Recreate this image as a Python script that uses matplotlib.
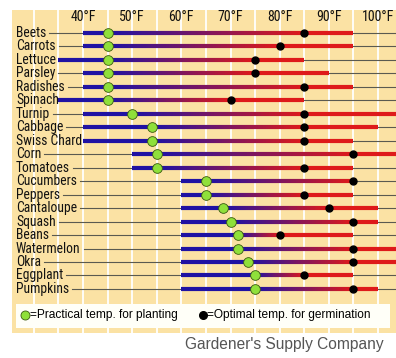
import matplotlib.pyplot as plt
import numpy as np
from matplotlib.collections import LineCollection
from matplotlib.patches import Rectangle
from matplotlib import font_manager
from matplotlib.font_manager import FontProperties

plt.rcParams['font.family'] = ['Liberation Sans', 'DejaVu Sans']

# look for a narrow sans face (labels in the original are condensed)
narrow_file = None
for f in font_manager.fontManager.ttflist:
    n = f.name + ' ' + f.fname
    if f.style != 'normal' or f.weight not in (400, 'normal', 'regular'):
        continue
    if 'Narrow' in n or 'Condensed' in n or f.stretch in ('condensed', 'semi-condensed'):
        if 'Mono' in n or 'Serif' in n:
            continue
        narrow_file = f.fname
        if 'Liberation' in n or 'Arial' in n:
            break

# crops, top to bottom
crops = ['Beets', 'Carrots', 'Lettuce', 'Parsley', 'Radishes', 'Spinach', 'Turnip',
         'Cabbage', 'Swiss Chard', 'Corn', 'Tomatoes', 'Cucumbers', 'Peppers',
         'Cantaloupe', 'Squash', 'Beans', 'Watermelon', 'Okra', 'Eggplant', 'Pumpkins']
# soil temperature range (F)
low = [40, 40, 35, 40, 40, 35, 40, 40, 40, 50, 50, 60, 60, 60, 60, 60, 60, 60, 60, 60]
high = [95, 95, 85, 90, 95, 85, 105, 100, 95, 105, 95, 95, 95, 100, 100, 95, 105, 105, 95, 100]
# practical temp for planting (green) / optimal temp for germination (black)
practical = [45, 45, 45, 45, 45, 45, 50, 54, 54, 55, 55, 65, 65, 68.5, 70, 71.5, 71.5, 73.5, 75, 75]
optimal = [85, 80, 75, 75, 85, 70, 85, 85, 85, 95, 85, 95, 85, 90, 95, 80, 95, 95, 85, 95]
tick_temps = [40, 50, 60, 70, 80, 90, 100]

W, H = 396, 358
fig = plt.figure(figsize=(W / 100, H / 100), dpi=100)
ax = fig.add_axes([0, 0, 1, 1])
ax.axis('off')

# pixel mapping: 40F at x=83, 4.917 px per degree; rows start y=33, 13.47 px apart
px_per_deg = 4.917
x0 = 40 - 83 / px_per_deg
ax.set_xlim(x0, x0 + W / px_per_deg)
row_h = 13.47
ax.set_ylim((H - 33) / row_h, -33 / row_h)


def px2x(px):
    return x0 + px / px_per_deg


def py2y(py):
    return (py - 33) / row_h


fig.canvas.draw()
renderer = fig.canvas.get_renderer()
inv = ax.transData.inverted()


def label_font(size):
    if narrow_file:
        return FontProperties(fname=narrow_file, size=size)
    return FontProperties(family='Liberation Sans', size=size * 0.88)


lab_size = 9.8
tick_size = 10

panel = '#fbe2a4'
blue = np.array([0.12, 0.07, 0.64])
red = np.array([0.87, 0.1, 0.1])

# background panel + white grid lines
ax.add_patch(Rectangle((px2x(12), py2y(10)), px2x(W) - px2x(12), py2y(333) - py2y(10),
                       facecolor=panel, edgecolor='none', zorder=0))
for t in range(30, 105, 5):
    ax.plot([t, t], [py2y(10), py2y(333)], color='white', lw=1.3, zorder=1)

for t in tick_temps:
    ax.text(t, py2y(17), f'{t}°F', ha='center', va='center', color='#111111',
            fontproperties=label_font(tick_size), zorder=5)

for i, crop in enumerate(crops):
    txt = ax.text(px2x(16), i, crop, ha='left', va='center', color='#111111',
                  fontproperties=label_font(lab_size), zorder=5)
    bb = txt.get_window_extent(renderer)
    x_end = inv.transform((bb.x1 + 3, 0))[0]
    ax.plot([x_end, px2x(W)], [i, i], color='#5a5a50', lw=0.8, zorder=2)

    # blue part, gradient part, red part
    ax.plot([low[i], practical[i]], [i, i], color=blue, lw=3, solid_capstyle='butt', zorder=3)
    ax.plot([optimal[i], high[i]], [i, i], color=red, lw=3, solid_capstyle='butt', zorder=3)
    xs = np.linspace(practical[i], optimal[i], 60)
    segs = [[(xs[k], i), (xs[k + 1], i)] for k in range(len(xs) - 1)]
    f = np.linspace(0, 1, len(segs))[:, None]
    cols = blue * (1 - f) + red * f
    ax.add_collection(LineCollection(segs, colors=cols, linewidths=3, capstyle='butt', zorder=3))

ax.plot(optimal, range(len(crops)), 'o', color='black', ms=5, zorder=4)
ax.plot(practical, range(len(crops)), 'o', color='#8fe03a', mec='#3a5a10', mew=0.6, ms=7, zorder=4)

# legend box
ax.add_patch(Rectangle((px2x(16), py2y(304)), px2x(390) - px2x(16), py2y(328) - py2y(304),
                       facecolor='#fffff8', edgecolor='none', zorder=5))
ax.plot([px2x(25)], [py2y(315)], 'o', color='#8fe03a', mec='#3a5a10', mew=0.6, ms=6.5, zorder=6)
ax.text(px2x(30), py2y(315), '=Practical temp. for planting', ha='left', va='center',
        fontsize=8.6, zorder=6)
ax.plot([px2x(203)], [py2y(315)], 'o', color='black', ms=5.5, zorder=6)
ax.text(px2x(207), py2y(315), '=Optimal temp. for germination', ha='left', va='center',
        fontsize=8.6, zorder=6)

ax.text(px2x(384), py2y(345), "Gardener's Supply Company", ha='right', va='center',
        fontsize=11.2, color='#555555')

fig.savefig('out.png', dpi=100)
